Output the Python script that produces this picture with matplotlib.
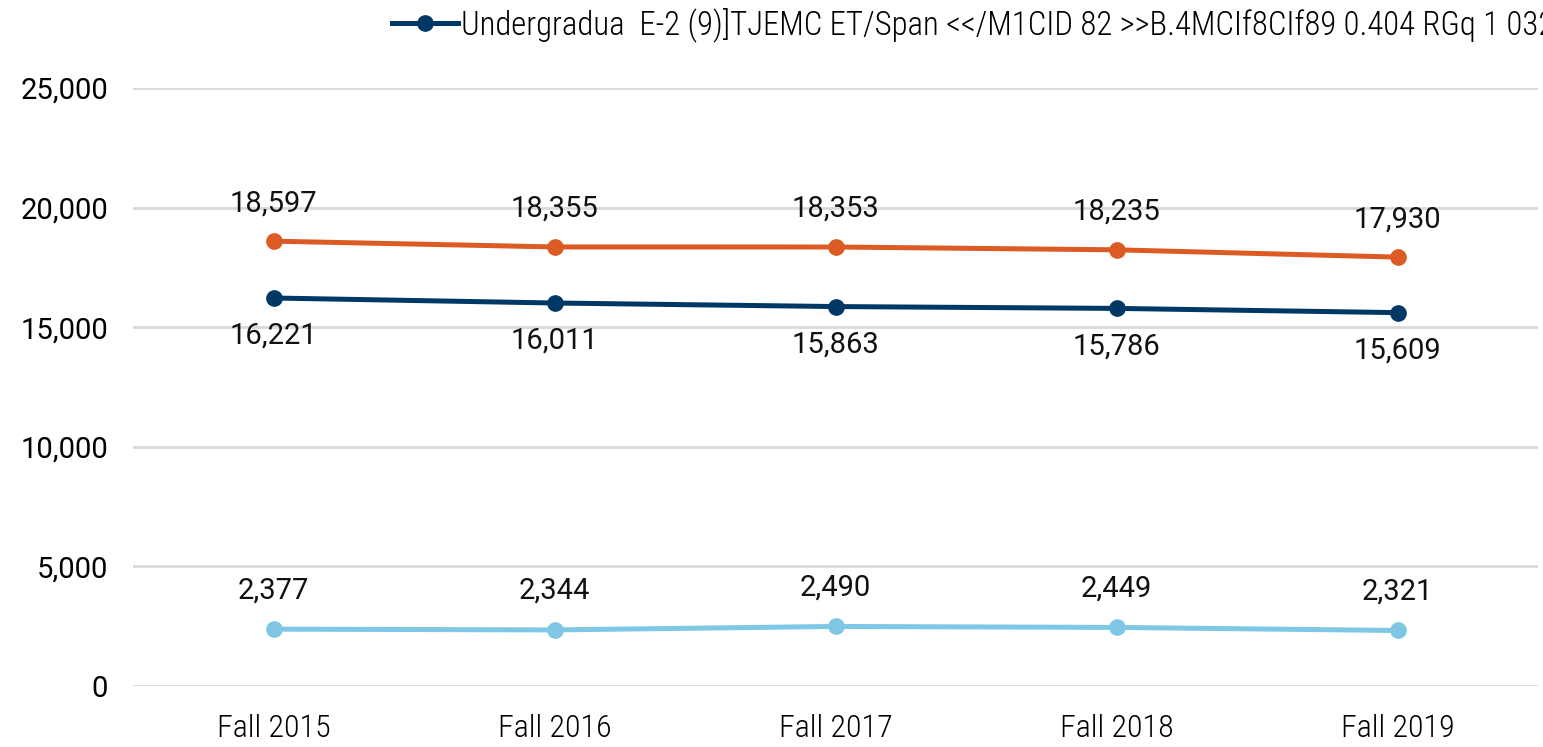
import matplotlib.pyplot as plt
from matplotlib.ticker import FuncFormatter

terms = ["Fall 2015", "Fall 2016", "Fall 2017", "Fall 2018", "Fall 2019"]
undergrad = [16221, 16011, 15863, 15786, 15609]
total = [18597, 18355, 18353, 18235, 17930]
graduate = [2377, 2344, 2490, 2449, 2321]

legend_text = "Undergradua  E-2 (9)]TJEMC ET/Span <</M1CID 82 >>B.4MCIf8CIf89 0.404 RGq 1 032"

narrow = ["Liberation Sans Narrow", "Roboto Condensed", "DejaVu Sans"]
plain = ["Roboto", "DejaVu Sans"]

fig = plt.figure(figsize=(15.43, 7.47), dpi=100)
ax = fig.add_axes([133 / 1543, 61 / 747, 1405 / 1543, 598 / 747])

x = range(len(terms))
ln_u, = ax.plot(x, undergrad, color="#003865", lw=3.6, marker="o", ms=11, zorder=3)
ax.plot(x, total, color="#DC5A23", lw=3.6, marker="o", ms=11, zorder=3)
ax.plot(x, graduate, color="#7FC7E4", lw=3.6, marker="o", ms=11, zorder=3)

# data labels
for i in x:
    ax.annotate(f"{undergrad[i]:,}", (i, undergrad[i]), xytext=(0, -38), textcoords="offset pixels",
                ha="center", va="center", fontsize=21, family=plain, color="#111111")
    ax.annotate(f"{total[i]:,}", (i, total[i]), xytext=(0, 38), textcoords="offset pixels",
                ha="center", va="center", fontsize=21, family=plain, color="#111111")
    ax.annotate(f"{graduate[i]:,}", (i, graduate[i]), xytext=(0, 39), textcoords="offset pixels",
                ha="center", va="center", fontsize=21, family=plain, color="#111111")

ax.set_xlim(-0.5, 4.5)
ax.set_ylim(0, 25000)
ax.set_yticks(range(0, 25001, 5000))
ax.yaxis.set_major_formatter(FuncFormatter(lambda v, p: f"{int(v):,}"))
ax.set_xticks(list(x))
ax.set_xticklabels(terms, fontsize=23, family=narrow, fontweight="light")
for lab in ax.get_yticklabels():
    lab.set_fontsize(21)
    lab.set_family(plain)
ax.tick_params(length=0, pad=18)
ax.tick_params(axis="x", pad=20)
ax.grid(axis="y", color="#D9D9D9", lw=2)
ax.set_axisbelow(True)
for s in ax.spines.values():
    s.set_visible(False)

fig.legend([ln_u], [legend_text], loc="center left", bbox_to_anchor=(392 / 1543, 1 - 25 / 747),
           frameon=False, handlelength=2.0, handletextpad=0.1, borderpad=0, borderaxespad=0,
           prop={"family": narrow, "size": 23.6, "weight": "light"})

fig.savefig("out.png", dpi=100)
